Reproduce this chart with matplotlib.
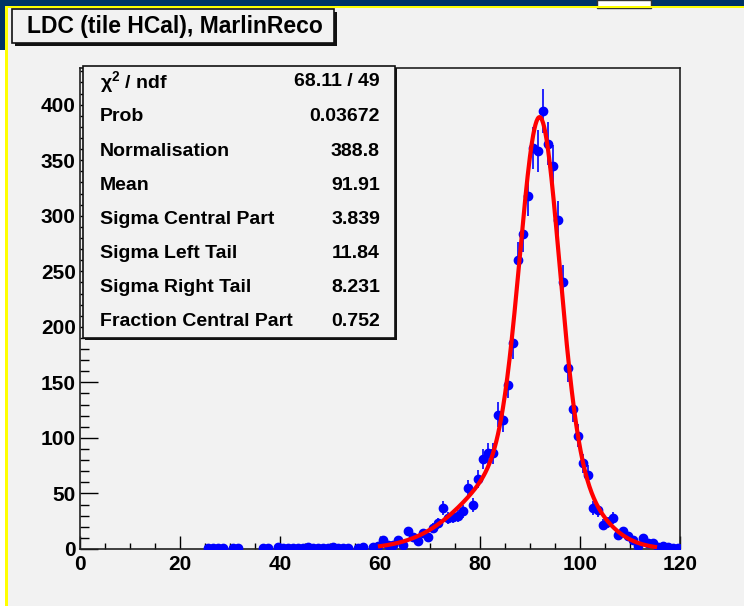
import numpy as np
import matplotlib
matplotlib.use("Agg")
import matplotlib.pyplot as plt
from matplotlib.patches import Rectangle
from matplotlib.ticker import MultipleLocator

# ==============================
# DATA
# ==============================
bin_centers = [25.5, 26.5, 27.5, 28.5, 30.5, 31.5, 36.5, 37.5,
               39.5, 40.5, 41.5, 42.5, 43.5, 44.5, 45.5, 46.5, 47.5, 48.5,
               49.5, 50.5, 51.5, 52.5, 53.5, 55.5, 56.5, 58.5, 59.5,
               60.5, 61.5, 62.5, 63.5, 64.5, 65.5, 66.5, 67.5, 68.5, 69.5,
               70.5, 71.5, 72.5, 73.5, 74.5, 75.5, 76.5, 77.5, 78.5, 79.5,
               80.5, 81.5, 82.5, 83.5, 84.5, 85.5, 86.5, 87.5, 88.5, 89.5,
               90.5, 91.5, 92.5, 93.5, 94.5, 95.5, 96.5, 97.5, 98.5, 99.5,
               100.5, 101.5, 102.5, 103.5, 104.5, 105.5, 106.5, 107.5, 108.5, 109.5,
               110.5, 111.5, 112.5, 113.5, 114.5, 115.5, 116.5, 117.5, 118.5, 119.5]
counts = [1, 1, 1, 1, 1, 1, 1, 1,
          2, 1, 1, 1, 1, 1, 2, 1, 1, 1,
          1, 2, 1, 1, 1, 1, 2, 2, 3,
          8, 4, 4, 8, 4, 16, 11, 7, 14, 11,
          19, 23, 37, 28, 29, 30, 34, 55, 40, 63,
          81, 86, 86, 121, 116, 148, 185, 260, 284, 318,
          361, 358, 394, 365, 345, 296, 240, 163, 126, 102,
          77, 67, 37, 35, 22, 24, 28, 13, 16, 12,
          8, 3, 10, 5, 5, 2, 3, 2, 1, 1]

# fit results (stats box)
chi2_ndf = "68.11 / 49"
prob = 0.03672
norm = 388.8
mean = 91.91
sigma_central = 3.839
sigma_left = 11.84
sigma_right = 8.231
frac_central = 0.752
fit_range = (60, 115)

stat_labels = [r"$\chi^{2}$ / ndf", "Prob", "Normalisation", "Mean",
               "Sigma Central Part", "Sigma Left Tail", "Sigma Right Tail",
               "Fraction Central Part"]
stat_values = [chi2_ndf, f"{prob}", f"{norm}", f"{mean}", f"{sigma_central}",
               f"{sigma_left}", f"{sigma_right}", f"{frac_central}"]

TITLE = "LDC (tile HCal), MarlinReco"

# ==============================
# STYLE
# ==============================
plt.rcParams["font.family"] = ["Liberation Sans", "DejaVu Sans"]
plt.rcParams["font.weight"] = "bold"
plt.rcParams["mathtext.default"] = "regular"

BG = "#f2f2f2"
W, H = 744, 606


def fx(px):
    return px / W


def fy(py):
    return 1 - py / H


def px_rect(x0, y0, x1, y1, **kw):
    return Rectangle((fx(x0), fy(y1)), (x1 - x0) / W, (y1 - y0) / H,
                     transform=fig.transFigure, **kw)


fig = plt.figure(figsize=(7.44, 6.06), dpi=100, facecolor=BG)

# slide frame bits around the canvas
fig.patches.append(px_rect(0, 0, 744, 8, facecolor="#003366", edgecolor="none", zorder=0))
fig.patches.append(px_rect(0, 0, 6, 50, facecolor="#003366", edgecolor="none", zorder=0))
fig.patches.append(px_rect(0, 50, 5, 606, facecolor="white", edgecolor="none", zorder=0))
fig.patches.append(px_rect(597, 0, 651, 8, facecolor="white", edgecolor="#333333", lw=1, zorder=0))
fig.patches.append(px_rect(5, 6, 744, 8, facecolor="#ffff00", edgecolor="none", zorder=1))
fig.patches.append(px_rect(5, 6, 7.5, 606, facecolor="#ffff00", edgecolor="none", zorder=1))

# ==============================
# AXES
# ==============================
ax = fig.add_axes([fx(80), fy(549), (680 - 80) / W, (549 - 68) / H])
ax.set_facecolor(BG)
ax.set_xlim(0, 120)
ax.set_ylim(0, 433)

x = np.array(bin_centers)
y = np.array(counts, dtype=float)
ax.errorbar(x, y, yerr=np.sqrt(y), fmt="o", color="#0000ff", ms=6,
            elinewidth=1.2, capsize=0, zorder=3)

# fitted function from the displayed parameters
xf = np.linspace(fit_range[0], fit_range[1], 500)
s_tail = np.where(xf < mean, sigma_left, sigma_right)
yf = norm * (frac_central * np.exp(-0.5 * ((xf - mean) / sigma_central) ** 2)
             + (1 - frac_central) * np.exp(-0.5 * ((xf - mean) / s_tail) ** 2))
ax.plot(xf, yf, color="#ff0000", lw=3, zorder=4)

ax.xaxis.set_major_locator(MultipleLocator(20))
ax.xaxis.set_minor_locator(MultipleLocator(5))
ax.yaxis.set_major_locator(MultipleLocator(50))
ax.yaxis.set_minor_locator(MultipleLocator(10))
ax.tick_params(axis="x", which="major", direction="in", length=9.5, width=1, pad=4,
               labelsize=15, top=False)
ax.tick_params(axis="x", which="minor", direction="in", length=4.5, width=1, top=False)
ax.tick_params(axis="y", which="major", direction="in", length=13, width=1, pad=3,
               labelsize=15, right=False)
ax.tick_params(axis="y", which="minor", direction="in", length=6.5, width=1, right=False)
for lab in ax.get_xticklabels() + ax.get_yticklabels():
    lab.set_fontweight("bold")
for sp in ax.spines.values():
    sp.set_color("#222222")
    sp.set_linewidth(1.2)

# ==============================
# TITLE BOX
# ==============================
fig.patches.append(px_rect(15, 12, 337, 46, facecolor="#111111", edgecolor="none", zorder=5))
fig.patches.append(px_rect(12, 9, 334, 43, facecolor=BG, edgecolor="#111111", lw=1.2, zorder=6))
fig.text(fx(27), fy(27), TITLE, fontsize=16.5, fontweight="bold",
         ha="left", va="center", zorder=7)

# ==============================
# STATS BOX
# ==============================
fig.patches.append(px_rect(85, 68, 397, 340, facecolor="#111111", edgecolor="none", zorder=5))
fig.patches.append(px_rect(83, 66, 395, 338, facecolor=BG, edgecolor="#111111", lw=1.2, zorder=6))
row_y = [82, 117, 151, 185, 219, 253, 287, 321]
for ry, lab, val in zip(row_y, stat_labels, stat_values):
    fig.text(fx(100), fy(ry), lab, fontsize=14, fontweight="bold",
             ha="left", va="center", zorder=7)
    fig.text(fx(380), fy(ry), val, fontsize=14, fontweight="bold",
             ha="right", va="center", zorder=7)

fig.savefig("out.png", dpi=100, facecolor=BG)
